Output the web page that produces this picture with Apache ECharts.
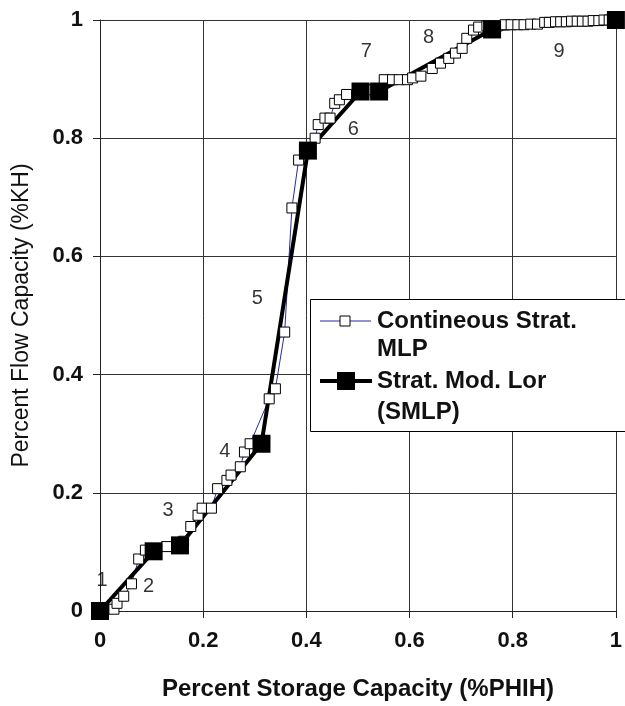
<!DOCTYPE html>
<html>
<head>
<meta charset="utf-8">
<script src="https://cdn.jsdelivr.net/npm/echarts@6/dist/echarts.min.js"></script>
<style>
  html, body { margin: 0; padding: 0; background: #fff; }
  #main { width: 625px; height: 706px; }
</style>
</head>
<body>
<div id="main"></div>
<script>
// continuous stratified MLP (hollow squares)
const contX = [0, 0.027, 0.033, 0.046, 0.061, 0.075, 0.088, 0.129, 0.162, 0.176, 0.19, 0.198, 0.216, 0.228, 0.246, 0.254, 0.272, 0.28, 0.291, 0.328, 0.34, 0.358, 0.372, 0.385, 0.417, 0.423, 0.436, 0.446, 0.455, 0.464, 0.478, 0.505, 0.53, 0.551, 0.567, 0.58, 0.596, 0.606, 0.622, 0.644, 0.66, 0.676, 0.689, 0.702, 0.711, 0.724, 0.734, 0.75, 0.77, 0.785, 0.797, 0.81, 0.822, 0.835, 0.848, 0.862, 0.871, 0.883, 0.893, 0.904, 0.914, 0.925, 0.935, 0.946, 0.956, 0.967, 0.977, 0.987, 1];
const contY = [0, 0.003, 0.013, 0.025, 0.046, 0.088, 0.103, 0.109, 0.118, 0.143, 0.162, 0.174, 0.174, 0.207, 0.221, 0.23, 0.244, 0.269, 0.283, 0.359, 0.376, 0.472, 0.682, 0.763, 0.8, 0.823, 0.834, 0.834, 0.859, 0.865, 0.874, 0.879, 0.882, 0.899, 0.899, 0.899, 0.899, 0.902, 0.905, 0.918, 0.927, 0.935, 0.944, 0.952, 0.969, 0.983, 0.988, 0.99, 0.99, 0.992, 0.992, 0.992, 0.992, 0.993, 0.993, 0.996, 0.996, 0.997, 0.997, 0.997, 0.998, 0.998, 0.998, 0.998, 0.999, 0.999, 1, 1, 1];
// stratified modified Lorenz (SMLP)
const smlpX = [0, 0.104, 0.155, 0.313, 0.403, 0.505, 0.541, 0.76, 1];
const smlpY = [0, 0.101, 0.111, 0.283, 0.779, 0.879, 0.879, 0.984, 1];
// zone numbers
const zoneNames = ['1', '2', '3', '4', '5', '6', '7', '8', '9'];
const zoneX = [0.004, 0.094, 0.132, 0.242, 0.305, 0.491, 0.516, 0.637, 0.89];
const zoneY = [0.052, 0.042, 0.17, 0.27, 0.528, 0.815, 0.946, 0.971, 0.946];

const font = 'Liberation Sans, Arial, sans-serif';
const pair = (xs, ys) => xs.map((x, i) => [x, ys[i]]);

const chart = echarts.init(document.getElementById('main'));
const option = {
  animation: false,
  grid: { left: 100, right: 3, top: 20, bottom: 93 },
  xAxis: {
    type: 'value', min: 0, max: 1, interval: 0.2,
    name: 'Percent Storage Capacity (%PHIH)',
    nameLocation: 'middle', nameGap: 66,
    nameTextStyle: { fontFamily: font, fontSize: 24, fontWeight: 'bold', color: '#111' },
    axisLine: { lineStyle: { color: '#222', width: 1 } },
    axisTick: { show: true, length: 7, inside: false, lineStyle: { color: '#222' } },
    axisLabel: { fontFamily: font, fontSize: 22, fontWeight: 'bold', color: '#111', margin: 19,
      formatter: v => String(+v.toFixed(1)) },
    splitLine: { show: true, lineStyle: { color: '#333', width: 1 } }
  },
  yAxis: {
    type: 'value', min: 0, max: 1, interval: 0.2,
    name: 'Percent Flow Capacity (%KH)',
    nameLocation: 'middle', nameGap: 67,
    nameTextStyle: { fontFamily: font, fontSize: 23, color: '#111' },
    axisLine: { show: true, lineStyle: { color: '#222', width: 1 } },
    axisTick: { show: true, length: 7, lineStyle: { color: '#222' } },
    axisLabel: { fontFamily: font, fontSize: 22, fontWeight: 'bold', color: '#111', margin: 17,
      formatter: v => String(+v.toFixed(1)) },
    splitLine: { show: true, lineStyle: { color: '#333', width: 1 } }
  },
  series: [
    {
      name: 'Contineous Strat. MLP', type: 'line', data: pair(contX, contY),
      showSymbol: false, z: 2,
      lineStyle: { color: '#2a2a9a', width: 1 }
    },
    {
      name: 'Strat. Mod. Lor (SMLP)', type: 'line', data: pair(smlpX, smlpY),
      showSymbol: false, z: 3,
      lineStyle: { color: '#000', width: 4 }
    },
    {
      type: 'scatter', data: pair(contX, contY), z: 4,
      symbol: 'rect', symbolSize: 10,
      itemStyle: { color: '#fff', borderColor: '#000', borderWidth: 1, opacity: 1 }
    },
    {
      type: 'scatter', data: pair(smlpX, smlpY), z: 5,
      symbol: 'rect', symbolSize: 18,
      itemStyle: { color: '#000', opacity: 1 }
    },
    {
      type: 'scatter', z: 6, symbolSize: 0,
      data: zoneNames.map((n, i) => ({ value: [zoneX[i], zoneY[i]], name: n })),
      label: { show: true, position: 'inside', formatter: p => p.name,
        fontFamily: font, fontSize: 20, color: '#000' }
    }
  ],
  graphic: [
    { type: 'rect', z: 100, shape: { x: 310.5, y: 299.5, width: 330, height: 132 },
      style: { fill: '#fff', stroke: '#000', lineWidth: 1 } },
    { type: 'line', z: 101, shape: { x1: 320, y1: 321, x2: 371, y2: 321 },
      style: { stroke: '#2a2a9a', lineWidth: 1 } },
    { type: 'rect', z: 102, shape: { x: 340, y: 316, width: 10, height: 10 },
      style: { fill: '#fff', stroke: '#000', lineWidth: 1 } },
    { type: 'text', z: 102, x: 377, y: 321,
      style: { text: 'Contineous Strat.', fontFamily: font, fontSize: 24, fontWeight: 'bold', fill: '#111', verticalAlign: 'middle' } },
    { type: 'text', z: 102, x: 377, y: 349,
      style: { text: 'MLP', fontFamily: font, fontSize: 24, fontWeight: 'bold', fill: '#111', verticalAlign: 'middle' } },
    { type: 'line', z: 101, shape: { x1: 320, y1: 381, x2: 372, y2: 381 },
      style: { stroke: '#000', lineWidth: 4 } },
    { type: 'rect', z: 102, shape: { x: 337, y: 372, width: 18, height: 18 },
      style: { fill: '#000' } },
    { type: 'text', z: 102, x: 377, y: 381,
      style: { text: 'Strat. Mod. Lor', fontFamily: font, fontSize: 24, fontWeight: 'bold', fill: '#111', verticalAlign: 'middle' } },
    { type: 'text', z: 102, x: 377, y: 412,
      style: { text: '(SMLP)', fontFamily: font, fontSize: 24, fontWeight: 'bold', fill: '#111', verticalAlign: 'middle' } }
  ]
};
chart.setOption(option);
</script>
</body>
</html>
